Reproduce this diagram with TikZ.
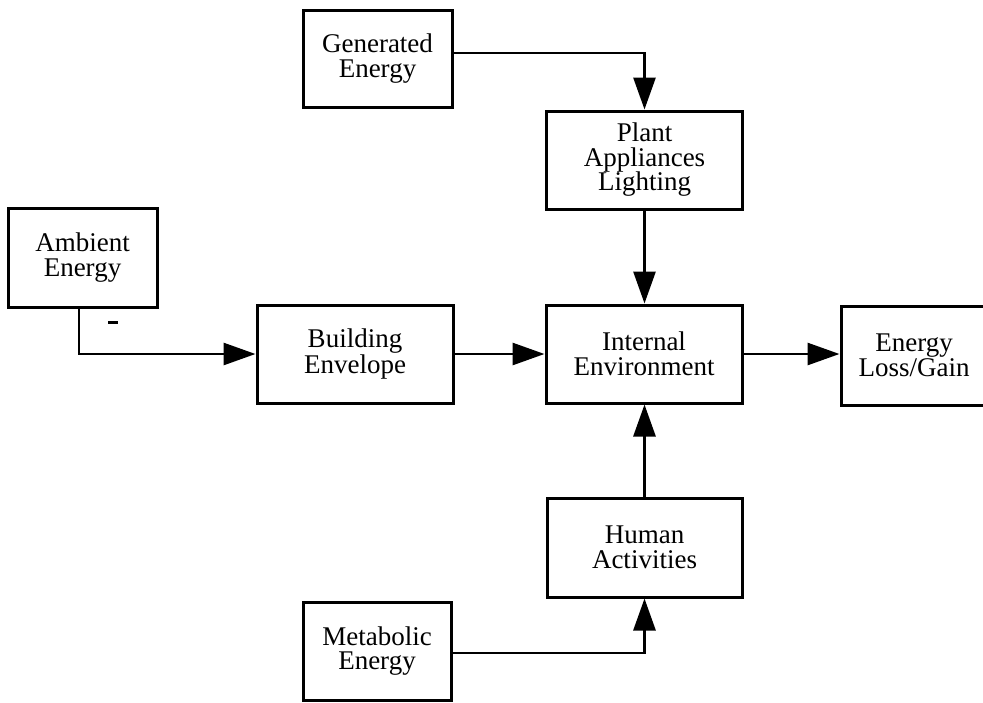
\documentclass[tikz,border=0pt]{standalone}
\usepackage{fontspec}
\setmainfont{Liberation Serif}
\usetikzlibrary{arrows.meta}
\tikzset{
  blk/.style={draw, line width=3pt, inner sep=0pt, align=center,
    font=\fontsize{27}{24.5}\selectfont},
  arr/.style={line width=2.8pt, -{Triangle[length=32pt,width=22pt]}},
}
\begin{document}
\begin{tikzpicture}[x=1pt,y=-1pt]
\useasboundingbox (0,0) rectangle (983,702);
\clip (0,0) rectangle (983,702);
\node[blk, minimum width=149pt, minimum height=97pt] (gen) at (377.5,58.5) {Generated\\Energy};
\node[blk, minimum width=196pt, minimum height=98pt] (plant) at (644.5,160) {Plant\\Appliances\\Lighting};
\node[blk, minimum width=149pt, minimum height=99pt] (amb) at (82.5,257.5) {Ambient\\Energy};
\node[blk, minimum width=196pt, minimum height=98pt] (build) at (355,354) {Building\\Envelope};
\node[blk, minimum width=196pt, minimum height=98pt] (intl) at (644,354) {Internal\\Environment};
\node[blk, minimum width=196pt, minimum height=99pt] (loss) at (939,355.5) {\hspace*{-50pt}\parbox{140pt}{\centering Energy\\Loss/Gain}};
\node[blk, minimum width=195pt, minimum height=99pt] (human) at (644.5,547.5) {Human\\Activities};
\node[blk, minimum width=148pt, minimum height=98pt] (meta) at (377,651) {Metabolic\\Energy};
\draw[arr] ([yshift=5.5pt]gen.east) -| (plant.north);
\draw[arr] (plant.south) -- (plant.south |- intl.north);
\draw[arr] ([xshift=-3.5pt]amb.south) |- (build.west);
\draw[arr] (build.east) -- (intl.west);
\draw[arr] (intl.east) -- (intl.east -| loss.west);
\draw[arr] (human.north) -- (human.north |- intl.south);
\draw[arr] ([yshift=-2pt]meta.east) -| (human.south);
\draw[line width=3pt] (108,322) -- (118,322);
\end{tikzpicture}
\end{document}
